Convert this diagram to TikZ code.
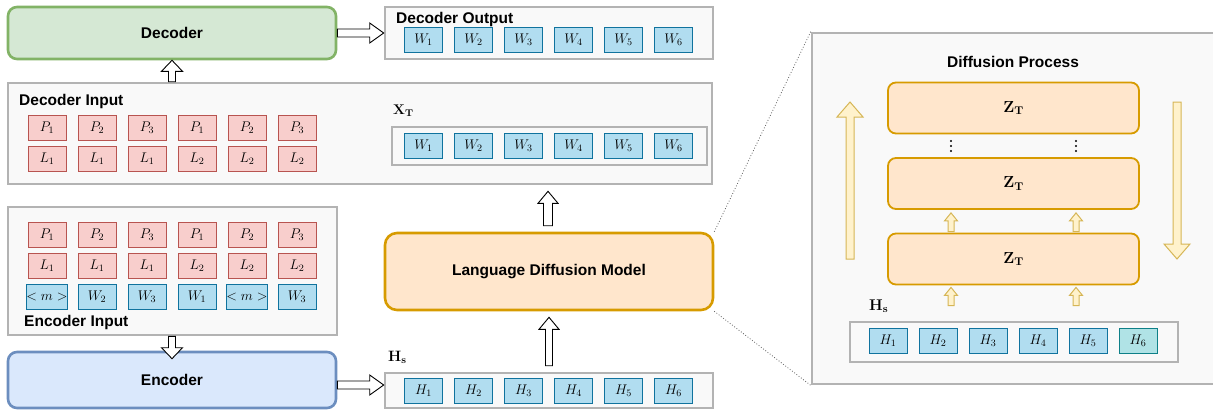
\RequirePackage{fix-cm}
\documentclass[tikz,border=0pt]{standalone}
\usepackage{amsmath, amssymb}
\usepackage[no-math]{fontspec}
\setmainfont{Liberation Sans}
\usepackage{tikz}
\usetikzlibrary{calc}

\definecolor{decfill}{HTML}{D5E8D4}
\definecolor{decline}{HTML}{82B366}
\definecolor{encfill}{HTML}{DAE8FC}
\definecolor{encline}{HTML}{6C8EBF}
\definecolor{ldmfill}{HTML}{FFE6CC}
\definecolor{ldmline}{HTML}{D79B00}
\definecolor{redfill}{HTML}{F8CECC}
\definecolor{redline}{HTML}{B85450}
\definecolor{bluefill}{HTML}{B1DDF0}
\definecolor{blueline}{HTML}{10739E}
\definecolor{tealfill}{HTML}{B0E3E6}
\definecolor{tealline}{HTML}{0E8088}
\definecolor{boxfill}{HTML}{F9F9F9}
\definecolor{boxline}{HTML}{B3B3B3}
\definecolor{arrfill}{HTML}{FFF2CC}
\definecolor{arrline}{HTML}{D6B656}

% hollow block arrow: style, tail, tip, shaft half width, head half width, head length
\newcommand{\hollowarrow}[6][]{%
  \coordinate (ha-base) at ($#3!#6!#2$);
  \filldraw[#1] ($#2!#4!90:#3$) -- ($(ha-base)!#4!90:#3$) -- ($(ha-base)!#5!90:#3$)
    -- #3 -- ($(ha-base)!#5!-90:#3$) -- ($(ha-base)!#4!-90:#3$) -- ($#2!#4!-90:#3$) -- cycle;
}

\begin{document}
\begin{tikzpicture}[x=1pt, y=-1pt,
  lab/.style={font=\fontsize{15.5}{18}\selectfont\bfseries, inner sep=0pt},
  mlab/.style={font=\fontsize{15}{17}\selectfont, inner sep=0pt},
  container/.style={draw=boxline, fill=boxfill, line width=2.6pt},
  block/.style={rounded corners=9pt, line width=2.6pt},
  cell/.style={minimum width=38pt, minimum height=25pt, inner sep=0pt, line width=0.9pt,
    font=\fontsize{14}{16}\selectfont},
  cellred/.style={cell, draw=redline, fill=redfill},
  cellblue/.style={cell, draw=blueline, fill=bluefill},
  zbox/.style={draw=ldmline, fill=ldmfill, rounded corners=8pt, line width=1.8pt,
    minimum width=251pt, minimum height=51pt, font=\fontsize{16}{18}\selectfont},
  blockblack/.style={draw=black, fill=white, line width=0.9pt},
  blockyellow/.style={draw=arrline, fill=arrfill, line width=1pt},
  dotmark/.style={fill=black, circle, inner sep=0pt, minimum size=2.4pt},
  zoomline/.style={dotted, line width=0.8pt, black!65}]
  \useasboundingbox (0,0) rectangle (1213,410);
  \clip (0,0) rectangle (1213,410);

  % Left column
  \node[block, draw=decline, fill=decfill, minimum width=328pt, minimum height=52pt] (dec) at (172,33) {};
  \node[lab] (declab) at (dec.center) {Decoder};
  \node[container, minimum width=704pt, minimum height=101pt] (decin) at (360,133.5) {};
  \node[lab, anchor=base west] (decinlab) at (19,105) {Decoder Input};
  \foreach \p [count=\i from 0] in {1,2,3,1,2,3}
    \node[cellred] (dp\i) at (47+50*\i,127.5) {$P_{\p}$};
  \foreach \l [count=\i from 0] in {1,1,1,2,2,2}
    \node[cellred] (dl\i) at (47+50*\i,159) {$L_{\l}$};

  \node[container, minimum width=329pt, minimum height=128pt] (encin) at (172.5,271) {};
  \foreach \p [count=\i from 0] in {1,2,3,1,2,3}
    \node[cellred] (ep\i) at (47+50*\i,234.5) {$P_{\p}$};
  \foreach \l [count=\i from 0] in {1,1,1,2,2,2}
    \node[cellred] (el\i) at (47+50*\i,265.5) {$L_{\l}$};
  \foreach \w [count=\i from 0] in {<m>,W_2,W_3,W_1,<m>,W_3}
    \node[cellblue] (ew\i) at (47+50*\i,296.5) {$\w$};
  \node[lab, anchor=base west] (encinlab) at (24,326) {Encoder Input};
  \node[block, draw=encline, fill=encfill, minimum width=328pt, minimum height=56pt] (enc) at (172,380) {};
  \node[lab] (enclab) at (enc.center) {Encoder};

  % Middle column
  \node[container, minimum width=328pt, minimum height=52pt] (decout) at (549,33) {};
  \node[lab, anchor=base west] (decoutlab) at (396,23) {Decoder Output};
  \foreach \i in {1,...,6}
    \node[cellblue] (ow\i) at (373.5+50*\i,39.5) {$W_{\i}$};
  \node[mlab, font=\fontsize{14}{16}\selectfont, anchor=base west] (xtlab) at (393,114) {$\mathbf{X}_{\mathbf{T}}$};
  \node[container, minimum width=315pt, minimum height=38pt] (xt) at (549.5,146) {};
  \foreach \i in {1,...,6}
    \node[cellblue] (xw\i) at (373.5+50*\i,146) {$W_{\i}$};
  \node[block, rounded corners=12pt, draw=ldmline, fill=ldmfill, minimum width=328pt, minimum height=77pt] (ldm) at (549,271.5) {};
  \node[lab] (ldmlab) at (ldm.center) {Language Diffusion Model};
  \node[mlab, anchor=base west] (hslab) at (388,361) {$\mathbf{H}_{\mathbf{s}}$};
  \node[container, minimum width=328pt, minimum height=35pt] (hs) at (549,390.5) {};
  \foreach \i in {1,...,6}
    \node[cellblue] (hh\i) at (373.5+50*\i,390.5) {$H_{\i}$};

  % Diffusion process panel
  \node[container, minimum width=418pt, minimum height=351pt] (panel) at (1021,208.5) {};
  \node[lab] (panellab) at (1013,62) {Diffusion Process};
  \node[zbox] (ztop) at (1013.5,108) {$\mathbf{Z}_{\mathbf{T}}$};
  \node[zbox] (zmid) at (1013.5,183.5) {$\mathbf{Z}_{\mathbf{T}}$};
  \node[zbox] (zbot) at (1013.5,259) {$\mathbf{Z}_{\mathbf{T}}$};
  \foreach \x in {951,1076}
    \foreach \y in {141,146,151}
      \node[dotmark] at (\x,\y) {};
  \node[mlab, font=\fontsize{15.5}{17}\selectfont, anchor=base west] (phslab) at (869,310) {$\mathbf{H}_{\mathbf{s}}$};
  \node[container, minimum width=328pt, minimum height=40pt] (phs) at (1014,342) {};
  \foreach \i in {1,...,5}
    \node[cellblue] (ph\i) at (838+50*\i,340.5) {$H_{\i}$};
  \node[cell, draw=tealline, fill=tealfill] (ph6) at (1138,340.5) {$H_6$};

  % zoom lines
  \draw[zoomline] (ldm.north east) -- (panel.north west);
  \draw[zoomline] (ldm.south east) -- (panel.south west);

  % arrows
  \hollowarrow[blockblack]{(dec.east)}{(decout.west)}{4pt}{10pt}{14pt}
  \hollowarrow[blockblack]{($(enc.east)+(0,5)$)}{($(hs.west)+(0,-5.5)$)}{4pt}{10pt}{14pt}
  \hollowarrow[blockblack]{(dec.south |- decin.north)}{(dec.south)}{3.5pt}{10.5pt}{11pt}
  \hollowarrow[blockblack]{(enc.north |- encin.south)}{($(enc.north)+(0,8)$)}{3.5pt}{10.5pt}{11pt}
  \coordinate (up1a) at ($(ldm.north)+(-1,-6)$);
  \coordinate (up1b) at ($(up1a |- decin.south)+(0,6)$);
  \hollowarrow[blockblack]{(up1a)}{(up1b)}{4.5pt}{10pt}{12pt}
  \coordinate (up2a) at ($(hs.north)+(0,-6)$);
  \coordinate (up2b) at ($(ldm.south)+(0,6)$);
  \hollowarrow[blockblack]{(up2a)}{(up2b)}{3.5pt}{10pt}{12pt}

  \coordinate (bigup1) at (850,259);
  \coordinate (bigup2) at (850,102);
  \hollowarrow[blockyellow]{(bigup1)}{(bigup2)}{4pt}{13pt}{15pt}
  \coordinate (bigdn1) at (1177,102);
  \coordinate (bigdn2) at (1177,259);
  \hollowarrow[blockyellow]{(bigdn1)}{(bigdn2)}{4pt}{13pt}{15pt}
  \foreach \dx [count=\k] in {-62.5,62.5} {
    \coordinate (sa\k) at ($(zbot.north)+(\dx,-1)$);
    \coordinate (sb\k) at ($(zmid.south)+(\dx,3)$);
    \hollowarrow[blockyellow]{(sa\k)}{(sb\k)}{3pt}{6.5pt}{8pt}
    \coordinate (sc\k) at ($(phs.north)+(\dx-0.5,-15)$);
    \coordinate (sd\k) at ($(zbot.south)+(\dx,2)$);
    \hollowarrow[blockyellow]{(sc\k)}{(sd\k)}{3pt}{6.5pt}{8pt}
  }
\end{tikzpicture}
\end{document}
